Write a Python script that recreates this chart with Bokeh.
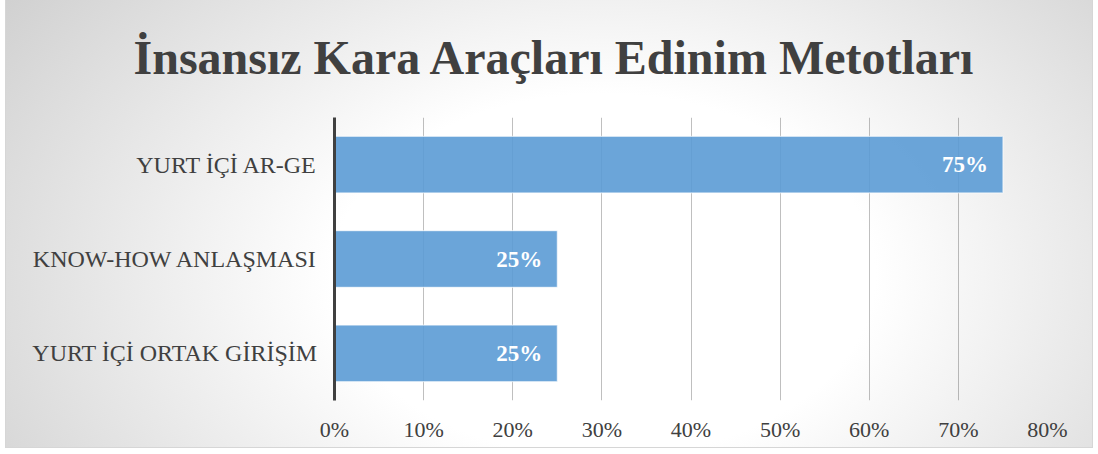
from bokeh.plotting import figure
from bokeh.models import FactorRange, Range1d, Title, FixedTicker, NumeralTickFormatter, ColumnDataSource
from bokeh.core.properties import value
from bokeh.embed import file_html
from bokeh.resources import INLINE

title_text = "İnsansız Kara Araçları Edinim Metotları"
categories = ["YURT İÇİ ORTAK GİRİŞİM", "KNOW-HOW ANLAŞMASI", "YURT İÇİ AR-GE"]
values = [0.25, 0.25, 0.75]
labels = ["25%", "25%", "75%"]
x_ticks = [0.0, 0.1, 0.2, 0.3, 0.4, 0.5, 0.6, 0.7, 0.8]

FONT = "'Liberation Serif'"
TXT = "#404040"

src = ColumnDataSource(dict(cat=categories, val=values, lab=labels))

p = figure(
    y_range=FactorRange(factors=categories, range_padding=0),
    x_range=Range1d(0, 0.8),
    frame_width=713, frame_height=283,
    min_border_left=329, min_border_right=46, min_border_top=0, min_border_bottom=48,
    output_backend="svg", toolbar_location=None, title=None,
)
p.background_fill_color = None
p.border_fill_color = None
p.outline_line_color = None
p.styles = {
    "margin": "-6px 0px 0px 5px",
    "background": "radial-gradient(ellipse 78% 125% at 55% 62%, #ffffff 0%, #ffffff 32%, #c4c4c4 100%)",
    "box-shadow": "inset 0 0 0 1px #d6d6d6",
}

p.hbar(y="cat", right="val", left=0, height=0.6, source=src,
       fill_color="#5b9bd5", fill_alpha=0.9, line_color="#ffffff", line_alpha=0.6, line_width=1.2)

p.text(x="val", y="cat", text="lab", source=src, x_offset=-15,
       text_align="right", text_baseline="middle",
       text_font=value(FONT), text_font_style="bold", text_font_size="23px", text_color="#ffffff")

# axes
p.xaxis.ticker = FixedTicker(ticks=x_ticks)
p.xaxis.formatter = NumeralTickFormatter(format="0%")
p.xaxis.axis_line_color = None
p.xaxis.major_tick_line_color = None
p.xaxis.minor_tick_line_color = None
p.xaxis.major_label_standoff = 10
p.xaxis.major_label_text_font = FONT
p.xaxis.major_label_text_font_size = "22px"
p.xaxis.major_label_text_color = TXT

p.yaxis.axis_line_color = TXT
p.yaxis.axis_line_width = 3
p.yaxis.major_tick_line_color = None
p.yaxis.minor_tick_line_color = None
p.yaxis.major_label_standoff = 11
p.yaxis.major_label_text_font = FONT
p.yaxis.major_label_text_font_size = "24px"
p.yaxis.major_label_text_color = TXT

p.xgrid.ticker = FixedTicker(ticks=x_ticks)
p.xgrid.grid_line_color = "#000000"
p.xgrid.grid_line_alpha = 0.25
p.ygrid.grid_line_color = None

t = Title(text=title_text, align="left", offset=-201, standoff=68,
          text_font=FONT, text_font_style="bold", text_font_size="48px", text_color=TXT)
p.add_layout(t, "above")

open("out.html", "w").write(file_html(p, INLINE))
